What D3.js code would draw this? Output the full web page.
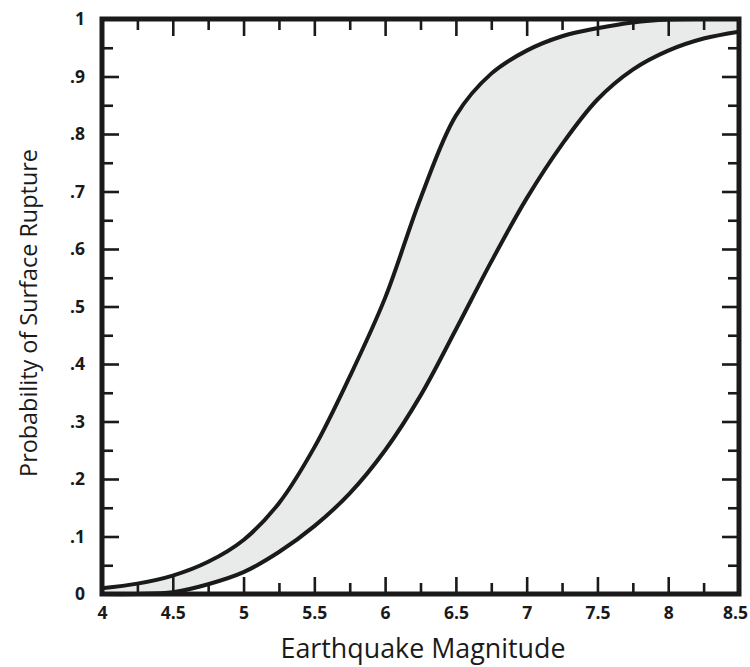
<!DOCTYPE html>
<html>
<head>
<meta charset="utf-8">
<script src="https://cdn.jsdelivr.net/npm/d3@7"></script>
<style>
  html, body { margin: 0; padding: 0; background: #fff; }
  svg { display: block; }
</style>
</head>
<body>
<svg id="chart" width="750" height="667"></svg>
<script>
// ---- data ----
const magnitudes = [4.0, 4.25, 4.5, 4.75, 5.0, 5.25, 5.5, 5.75, 6.0, 6.25, 6.5, 6.75, 7.0, 7.25, 7.5, 7.75, 8.0, 8.25, 8.5];
const upperProb  = [0.010, 0.018, 0.032, 0.056, 0.094, 0.158, 0.255, 0.378, 0.515, 0.688, 0.832, 0.905, 0.945, 0.970, 0.984, 0.994, 0.999, 1.0, 1.0];
const lowerProb  = [0.000, 0.000, 0.003, 0.017, 0.038, 0.073, 0.118, 0.175, 0.250, 0.345, 0.460, 0.578, 0.688, 0.782, 0.860, 0.912, 0.945, 0.966, 0.978];
const xMajorTicks = [4, 4.5, 5, 5.5, 6, 6.5, 7, 7.5, 8, 8.5];
const xMinorTicks = [4.25, 4.75, 5.25, 5.75, 6.25, 6.75, 7.25, 7.75, 8.25];
const yMajorTicks = [0, 0.1, 0.2, 0.3, 0.4, 0.5, 0.6, 0.7, 0.8, 0.9, 1];
const yMinorTicks = [0.05, 0.15, 0.25, 0.35, 0.45, 0.55, 0.65, 0.75, 0.85, 0.95];
const xTitle = "Earthquake Magnitude";
const yTitle = "Probability of Surface Rupture";

// ---- layout ----
const svg = d3.select("#chart");
const x = d3.scaleLinear().domain([4, 8.5]).range([102, 739]);
const y = d3.scaleLinear().domain([0, 1]).range([594, 19]);
const ink = "#1a1a1a";
const curve = d3.curveCatmullRom.alpha(0.5);

const band = magnitudes.map((m, i) => ({ m, lo: lowerProb[i], hi: upperProb[i] }));

svg.append("path")
  .datum(band)
  .attr("fill", "#e9ebeb")
  .attr("d", d3.area().x(d => x(d.m)).y0(d => y(d.lo)).y1(d => y(d.hi)).curve(curve));

const lineGen = key => d3.line().x(d => x(d.m)).y(d => y(d[key])).curve(curve);
["hi", "lo"].forEach(k => {
  svg.append("path")
    .datum(band)
    .attr("fill", "none")
    .attr("stroke", ink)
    .attr("stroke-width", 4)
    .attr("stroke-linejoin", "round")
    .attr("d", lineGen(k));
});

// ---- axes (ticks inward on all sides) ----
const fmtX = d => String(d);
const fmtY = d => d === 0 ? "0" : d === 1 ? "1" : "." + Math.round(d * 10);
const MAJ = 17, MIN = 11;

function styleAxis(g) {
  g.attr("font-size", null).attr("font-family", null);
  g.select(".domain").remove();
  g.selectAll(".tick line").attr("stroke", ink).attr("stroke-width", 2.6);
  g.selectAll(".tick text")
    .attr("fill", ink)
    .attr("font-family", "'Open Sans', 'DejaVu Sans', sans-serif")
    .attr("font-weight", 700)
    .attr("font-size", 17.5);
}

// bottom
const bottomAxis = svg.append("g").attr("transform", `translate(0,${y(0)})`)
  .call(d3.axisBottom(x).tickValues(xMajorTicks).tickSize(-MAJ).tickPadding(13).tickFormat(fmtX))
  .call(styleAxis);
// keep the last label inside the picture
bottomAxis.selectAll(".tick text").filter(d => d === 8.5).attr("dx", -4);
svg.append("g").attr("transform", `translate(0,${y(0)})`)
  .call(d3.axisBottom(x).tickValues(xMinorTicks).tickSize(-MIN).tickFormat(""))
  .call(styleAxis);
// top
svg.append("g").attr("transform", `translate(0,${y(1)})`)
  .call(d3.axisTop(x).tickValues(xMajorTicks).tickSize(-MAJ).tickFormat(""))
  .call(styleAxis);
svg.append("g").attr("transform", `translate(0,${y(1)})`)
  .call(d3.axisTop(x).tickValues(xMinorTicks).tickSize(-MIN).tickFormat(""))
  .call(styleAxis);
// left
svg.append("g").attr("transform", `translate(${x(4)},0)`)
  .call(d3.axisLeft(y).tickValues(yMajorTicks).tickSize(-MAJ).tickPadding(17).tickFormat(fmtY))
  .call(styleAxis);
svg.append("g").attr("transform", `translate(${x(4)},0)`)
  .call(d3.axisLeft(y).tickValues(yMinorTicks).tickSize(-MIN).tickFormat(""))
  .call(styleAxis);
// right
svg.append("g").attr("transform", `translate(${x(8.5)},0)`)
  .call(d3.axisRight(y).tickValues(yMajorTicks).tickSize(-MAJ).tickFormat(""))
  .call(styleAxis);
svg.append("g").attr("transform", `translate(${x(8.5)},0)`)
  .call(d3.axisRight(y).tickValues(yMinorTicks).tickSize(-MIN).tickFormat(""))
  .call(styleAxis);

// frame
svg.append("rect")
  .attr("x", x(4)).attr("y", y(1))
  .attr("width", x(8.5) - x(4)).attr("height", y(0) - y(1))
  .attr("fill", "none").attr("stroke", ink).attr("stroke-width", 5);

// ---- titles ----
const tx = svg.append("text")
  .attr("x", 423).attr("y", 658)
  .attr("text-anchor", "middle")
  .attr("fill", ink)
  .style("font-family", "'Open Sans', 'DejaVu Sans', sans-serif")
  .style("font-size", "22px")
  .text(xTitle);
const ty = svg.append("text")
  .attr("transform", "translate(37,313) rotate(-90)")
  .attr("text-anchor", "middle")
  .attr("fill", ink)
  .style("font-family", "'Open Sans', 'DejaVu Sans', sans-serif")
  .style("font-size", "22px")
  .text(yTitle);
// fit title widths to the reference's measured spans
[[tx, 285], [ty, 328]].forEach(([t, w]) => {
  const len = t.node().getComputedTextLength();
  if (len > 0) t.style("font-size", (22 * w / len).toFixed(2) + "px");
});
</script>
</body>
</html>
